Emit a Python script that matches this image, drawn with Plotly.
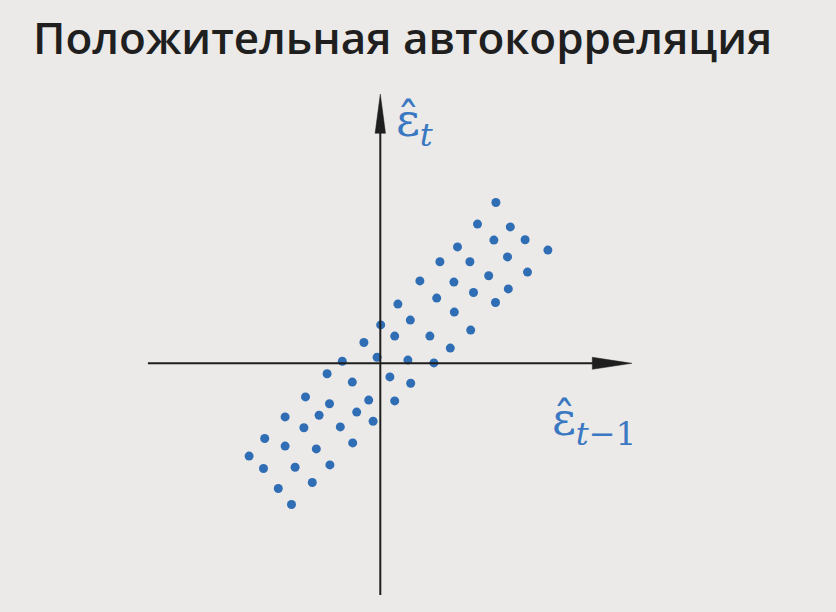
import plotly.graph_objects as go

# Residual pairs: x = e_{t-1}, y = e_t (arbitrary units)
e_prev = [2.89, 2.43, 3.25, 2.84, 3.62, 4.19, 1.93, 1.49, 2.24, 3.18, 3.68, 2.71, 0.99, 1.84,
          2.33, 3.20, 0.44, 1.41, 2.88, 1.85, 0.75, 0.01, 0.36, 1.24, 2.26, -0.41, 1.75, -0.08,
          -0.95, 0.69, 1.34, -1.33, -0.70, 0.24, 0.76, -1.87, -1.27, -0.29, 0.36, -2.38, -1.53,
          -0.59, -0.18, -2.89, -1.91, -1.00, -3.28, -2.38, -1.60, -0.69, -2.92, -2.13, -1.26,
          -2.55, -1.70, -2.22]
e_curr = [4.02, 3.48, 3.41, 3.08, 3.09, 2.83, 2.91, 2.54, 2.54, 2.66, 2.28, 2.19, 2.06, 2.03,
          1.77, 1.86, 1.48, 1.63, 1.52, 1.28, 1.08, 0.96, 0.68, 0.68, 0.83, 0.52, 0.38, 0.15,
          0.05, 0.08, 0.01, -0.26, -0.47, -0.34, -0.50, -0.84, -1.01, -0.92, -0.94, -1.34, -1.30,
          -1.22, -1.45, -1.88, -1.61, -1.59, -2.32, -2.07, -2.14, -1.99, -2.63, -2.60, -2.54,
          -3.13, -2.98, -3.53]

title_text = "Положительная автокорреляция"
y_label = "ε̂<sub><i>t</i></sub>"
x_label = "ε̂<sub><i>t</i>−1</sub>"

W, H = 836, 612
S = 40.0           # pixels per unit
ox, oy = 380.3, 363.3  # origin in pixels

xr = [-ox / S, (W - ox) / S]
yr = [-(H - oy) / S, oy / S]

fig = go.Figure()
fig.add_trace(go.Scatter(
    x=e_prev, y=e_curr, mode="markers",
    marker=dict(size=9, color="#2f6db5", line=dict(width=0)),
    hoverinfo="skip", showlegend=False,
))

axis_col = "#1e1e1e"
shapes = [
    dict(type="line", xref="x", yref="y", x0=0, x1=0, y0=-5.79, y1=5.85,
         line=dict(color=axis_col, width=2)),
    dict(type="line", xref="x", yref="y", x0=-5.81, x1=5.35, y0=0, y1=0,
         line=dict(color=axis_col, width=2)),
    dict(type="path", xref="x", yref="y",
         path="M -0.13 5.75 L 0 6.73 L 0.13 5.75 Z",
         fillcolor=axis_col, line=dict(color=axis_col, width=0.5)),
    dict(type="path", xref="x", yref="y",
         path="M 5.3 0.15 L 6.29 0 L 5.3 -0.15 Z",
         fillcolor=axis_col, line=dict(color=axis_col, width=0.5)),
]

label_font = dict(family="DejaVu Serif", size=46, color="#3a78c2")
annotations = [
    dict(text=title_text, xref="paper", yref="paper", x=31 / W, y=1 - 37 / H,
         xanchor="left", yanchor="middle", showarrow=False,
         font=dict(family="Open Sans", size=44, color="#1f1f1f", weight=600)),
    dict(text=y_label, xref="paper", yref="paper", x=394 / W, y=1 - 124 / H,
         xanchor="left", yanchor="middle", showarrow=False, font=label_font),
    dict(text=x_label, xref="paper", yref="paper", x=550 / W, y=1 - 422 / H,
         xanchor="left", yanchor="middle", showarrow=False, font=label_font),
]

fig.update_layout(
    width=W, height=H,
    margin=dict(l=0, r=0, t=0, b=0),
    paper_bgcolor="#ebeae8", plot_bgcolor="#ebeae8",
    xaxis=dict(range=xr, visible=False, fixedrange=True),
    yaxis=dict(range=yr, visible=False, fixedrange=True),
    shapes=shapes, annotations=annotations,
    showlegend=False,
)

fig.write_html(
    "out.html",
    config={"displayModeBar": False},
    post_script="document.body.style.margin='0';document.body.style.overflow='hidden';",
)
